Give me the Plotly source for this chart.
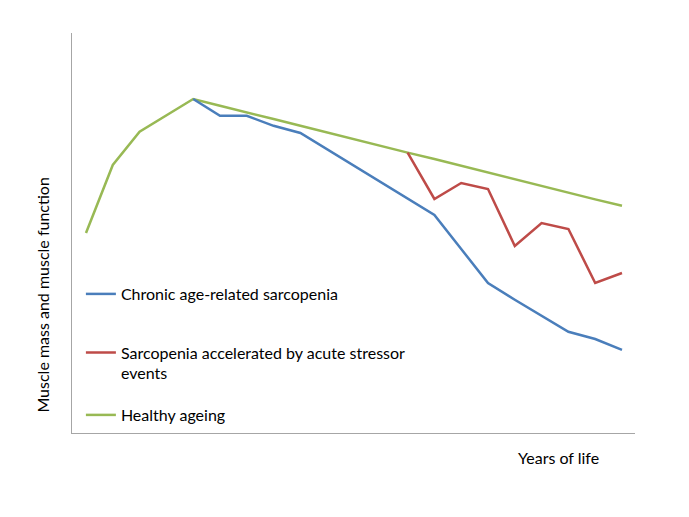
import plotly.graph_objects as go

years = list(range(21))
chronic = [None, None, None, None, 83.5, 79.3, 79.3, 76.8, 75.0, 70.9, 66.8, 62.7, 58.6,
           54.5, 46.0, 37.5, 33.3, 29.3, 25.3, 23.5, 20.8]
acute = [None] * 12 + [70.1, 58.5, 62.5, 61.0, 46.75, 52.5, 51.0, 37.5, 40.0]
healthy = [50.0, 67.0, 75.3, 79.4, 83.5, 81.8, 80.2, 78.5, 76.8, 75.1, 73.5, 71.8, 70.1,
           68.5, 66.8, 65.1, 63.4, 61.8, 60.1, 58.4, 56.8]

names = ["Chronic age-related sarcopenia",
         "Sarcopenia accelerated by acute stressor<br>events",
         "Healthy ageing"]
colors = ["#4a7ebb", "#be4b48", "#98b954"]
series = [chronic, acute, healthy]
legend_ids = ["legend", "legend2", "legend3"]
legend_y = [0.3475, 0.175, 0.045]

fig = go.Figure()
for idx in [2, 0, 1]:
    fig.add_trace(go.Scatter(x=years, y=series[idx], mode="lines", name=names[idx],
                             line=dict(color=colors[idx], width=2.5),
                             legend=legend_ids[idx], connectgaps=False))

legend_common = dict(x=0.0158, xanchor="left", yanchor="middle",
                     bgcolor="rgba(0,0,0,0)", itemwidth=30, valign="top",
                     font=dict(size=16))

fig.update_layout(
    width=681, height=509,
    margin=dict(l=64, r=54, t=25, b=84),
    paper_bgcolor="white", plot_bgcolor="white",
    font=dict(family="Lato, Open Sans, sans-serif", size=16, color="#000000"),
    showlegend=True,
    legend=dict(y=legend_y[0], **legend_common),
    legend2=dict(y=legend_y[1], **legend_common),
    legend3=dict(y=legend_y[2], **legend_common),
    xaxis=dict(range=[-0.522, 20.485], showgrid=False, zeroline=False,
               showticklabels=False, ticks="", showline=True,
               linecolor="#a6a6a6", linewidth=1),
    yaxis=dict(range=[0, 100], showgrid=False, zeroline=False,
               showticklabels=False, ticks="", showline=True,
               linecolor="#a6a6a6", linewidth=1),
    annotations=[
        dict(text="Years of life", xref="paper", yref="paper", x=0.865, y=-0.06,
             xanchor="center", yanchor="middle", showarrow=False, font=dict(size=16)),
        dict(text="Muscle mass and muscle function", xref="paper", yref="paper",
             x=-0.054, y=0.345, xanchor="center", yanchor="middle", textangle=-90,
             showarrow=False, font=dict(size=16)),
    ],
)

fig.write_html("out.html")
